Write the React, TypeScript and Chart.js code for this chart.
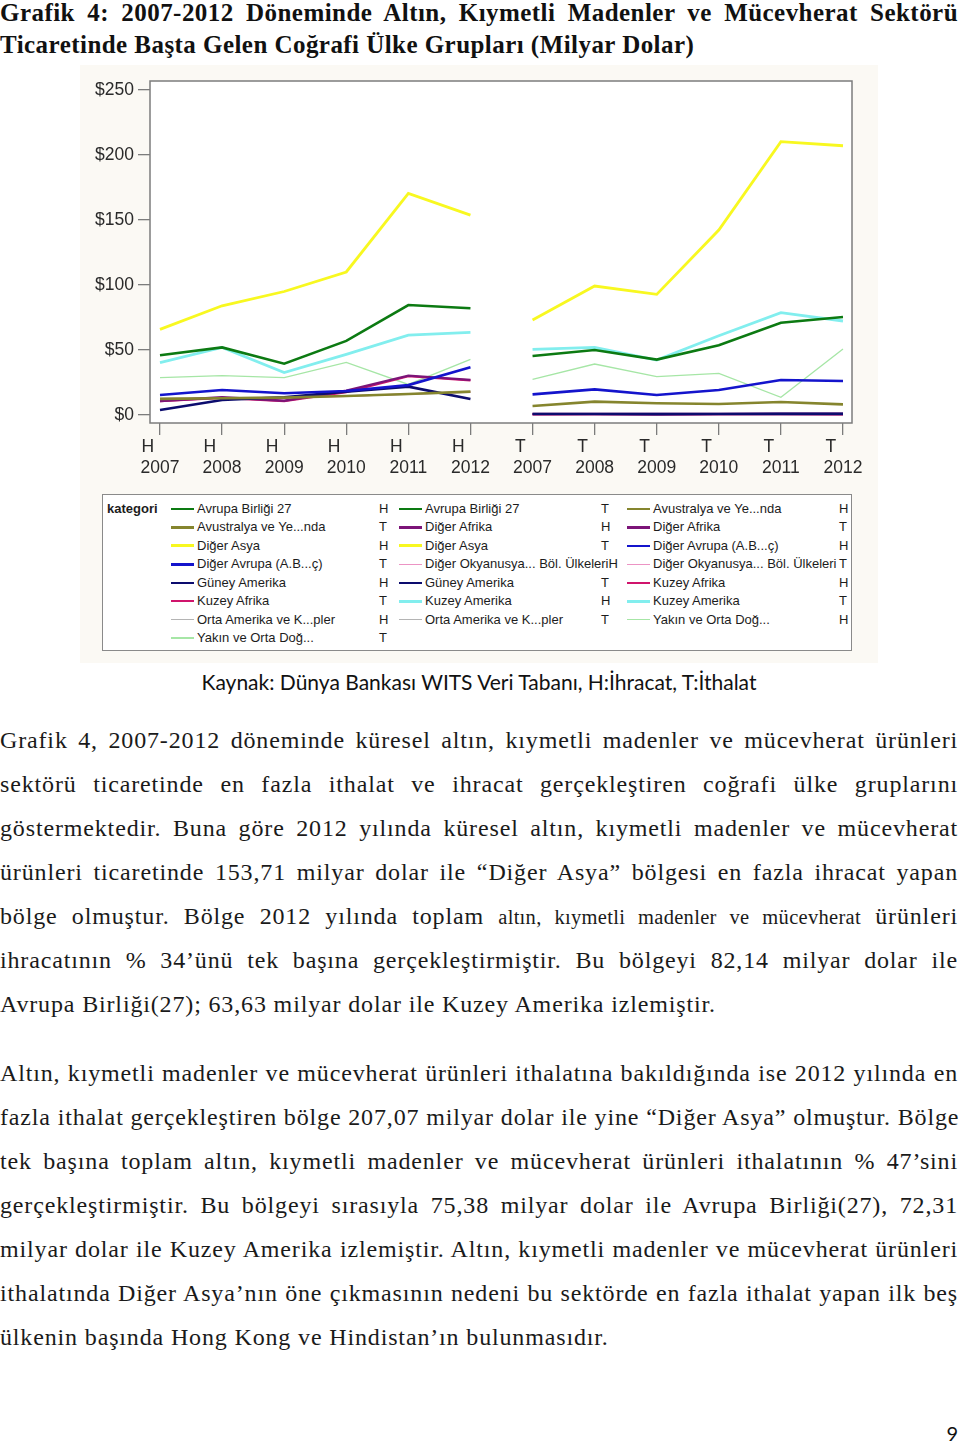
import React, { useEffect, useRef } from 'react';
import { Chart, registerables } from 'chart.js';

Chart.register(...registerables);

// ---------- data ----------
const YEARS = ['2007', '2008', '2009', '2010', '2011', '2012'];
const TYPES = ['H', 'T'];
const Y_TICKS = [0, 50, 100, 150, 200, 250];

const REGIONS = [
  'Avrupa Birliği 27',
  'Avustralya ve Ye...nda',
  'Diğer Afrika',
  'Diğer Asya',
  'Diğer Avrupa (A.B...ç)',
  'Diğer Okyanusya... Böl. Ülkeleri',
  'Güney Amerika',
  'Kuzey Afrika',
  'Kuzey Amerika',
  'Orta Amerika ve K...pler',
  'Yakın ve Orta Doğ...',
];

// H = ihracat (export), T = ithalat (import), milyar dolar
const AB27_H = [46, 52, 39.5, 57, 84.6, 82.1];
const AB27_T = [45.4, 50, 42.6, 53.6, 71, 75.4];
const AVUSTRALYA_H = [12.4, 12.9, 13.4, 14.6, 16.2, 18];
const AVUSTRALYA_T = [6.9, 10.3, 9, 8.5, 10, 8.2];
const DIGER_AFRIKA_H = [10.8, 13.6, 11, 18.7, 30.3, 27];
const DIGER_AFRIKA_T = [0.9, 0.9, 0.8, 0.9, 1, 1];
const DIGER_ASYA_H = [65.9, 84, 95, 110, 170.5, 153.7];
const DIGER_ASYA_T = [73, 99.2, 92.8, 142.3, 210.3, 207.1];
const DIGER_AVRUPA_H = [15.4, 19.2, 16.7, 18.5, 23, 36.7];
const DIGER_AVRUPA_T = [15.9, 19.7, 15.4, 19.2, 26.9, 26.2];
const DIGER_OKYANUSYA_H = [12.5, 13, 13.4, 14.5, 16.1, 17.8];
const DIGER_OKYANUSYA_T = [0.3, 0.3, 0.2, 0.3, 0.4, 0.3];
const GUNEY_AMERIKA_H = [3.8, 11.5, 13.6, 18, 21.8, 12.3];
const GUNEY_AMERIKA_T = [0.8, 0.8, 0.7, 0.8, 0.9, 0.9];
const KUZEY_AFRIKA_H = [10.6, 13.2, 10.7, 17.6, 29.8, 26.6];
const KUZEY_AFRIKA_T = [0.5, 0.6, 0.5, 0.6, 0.6, 0.5];
const KUZEY_AMERIKA_H = [40.3, 52, 32.6, 46.7, 61.5, 63.6];
const KUZEY_AMERIKA_T = [50.5, 52, 42.3, 61, 78.7, 72.3];
const ORTA_AMERIKA_H = [12.7, 13.2, 13.6, 14.6, 16, 17.6];
const ORTA_AMERIKA_T = [0.6, 0.7, 0.6, 0.7, 0.7, 0.6];
const YAKIN_DOGU_H = [28.7, 30.3, 28.7, 40.5, 23.5, 42.8];
const YAKIN_DOGU_T = [27.4, 39.2, 29.5, 32, 13.6, 50.8];

const VALUES_H = [AB27_H, AVUSTRALYA_H, DIGER_AFRIKA_H, DIGER_ASYA_H, DIGER_AVRUPA_H, DIGER_OKYANUSYA_H, GUNEY_AMERIKA_H, KUZEY_AFRIKA_H, KUZEY_AMERIKA_H, ORTA_AMERIKA_H, YAKIN_DOGU_H];
const VALUES_T = [AB27_T, AVUSTRALYA_T, DIGER_AFRIKA_T, DIGER_ASYA_T, DIGER_AVRUPA_T, DIGER_OKYANUSYA_T, GUNEY_AMERIKA_T, KUZEY_AFRIKA_T, KUZEY_AMERIKA_T, ORTA_AMERIKA_T, YAKIN_DOGU_T];

// ---------- styles ----------
const COLORS = ['#0c7a12', '#85852e', '#7c1478', '#f8f820', '#1414cc', '#ec94c4', '#0c0c6e', '#d0146c', '#82eeee', '#b4b4b4', '#a6e6a6'];
const WIDTHS = [2.6, 2.6, 2.4, 2.8, 2.6, 1.6, 2.6, 2.2, 2.8, 1.6, 1.3];
const DRAW_ORDER = [2, 3, 5, 1, 3, 9, 3, 7, 2, 9, 8];

const TITLE_LINES = [
  'Grafik 4: 2007-2012 Döneminde Altın, Kıymetli Madenler ve Mücevherat Sektörü',
  'Ticaretinde Başta Gelen Coğrafi Ülke Grupları (Milyar Dolar)',
];
const SOURCE = 'Kaynak: Dünya Bankası WITS Veri Tabanı, H:İhracat, T:İthalat';
const PARA1 = [
  'Grafik 4, 2007-2012 döneminde küresel altın, kıymetli madenler ve mücevherat ürünleri',
  'sektörü ticaretinde en fazla ithalat ve ihracat gerçekleştiren coğrafi ülke gruplarını',
  'göstermektedir. Buna göre 2012 yılında küresel altın, kıymetli madenler ve mücevherat',
  'ürünleri ticaretinde 153,71 milyar dolar ile “Diğer Asya” bölgesi en fazla ihracat yapan',
  ['bölge olmuştur. Bölge 2012 yılında toplam ', 'altın, kıymetli madenler ve mücevherat', ' ürünleri'],
  'ihracatının % 34’ünü tek başına gerçekleştirmiştir. Bu bölgeyi 82,14 milyar dolar ile',
  'Avrupa Birliği(27); 63,63 milyar dolar ile Kuzey Amerika izlemiştir.',
];
const PARA2 = [
  'Altın, kıymetli madenler ve mücevherat ürünleri ithalatına bakıldığında ise 2012 yılında en',
  'fazla ithalat gerçekleştiren bölge 207,07 milyar dolar ile yine “Diğer Asya” olmuştur. Bölge',
  'tek başına toplam altın, kıymetli madenler ve mücevherat ürünleri ithalatının % 47’sini',
  'gerçekleştirmiştir. Bu bölgeyi sırasıyla 75,38 milyar dolar ile Avrupa Birliği(27), 72,31',
  'milyar dolar ile Kuzey Amerika izlemiştir. Altın, kıymetli madenler ve mücevherat ürünleri',
  'ithalatında Diğer Asya’nın öne çıkmasının nedeni bu sektörde en fazla ithalat yapan ilk beş',
  'ülkenin başında Hong Kong ve Hindistan’ın bulunmasıdır.',
];
const PAGE_NO = '9';

const X_LABELS = TYPES.flatMap((t) => YEARS.map((y) => [t, y]));

const AXIS_FONT = { family: '"Liberation Sans", Arial, sans-serif', size: 17.5 };

const framePlugin = {
  id: 'frame',
  beforeDraw(chart: any) {
    const { ctx, chartArea: a } = chart;
    ctx.save();
    ctx.fillStyle = '#ffffff';
    ctx.fillRect(a.left, a.top, a.right - a.left, a.bottom - a.top);
    ctx.restore();
  },
  afterDraw(chart: any) {
    const { ctx, chartArea: a } = chart;
    ctx.save();
    ctx.strokeStyle = '#7c7c7c';
    ctx.lineWidth = 1.5;
    ctx.strokeRect(a.left, a.top, a.right - a.left, a.bottom - a.top);
    ctx.restore();
  },
};

function ChartCanvas() {
  const ref = useRef<HTMLCanvasElement | null>(null);
  useEffect(() => {
    if (!ref.current) return;
    const datasets: any[] = [];
    REGIONS.forEach((name, r) => {
      TYPES.forEach((t, ti) => {
        const vals = ti === 0 ? VALUES_H[r] : VALUES_T[r];
        datasets.push({
          label: name + ' ' + t,
          data: vals.map((v, i) => ({ x: ti * YEARS.length + i, y: v })),
          borderColor: COLORS[r],
          backgroundColor: COLORS[r],
          borderWidth: WIDTHS[r],
          pointRadius: 0,
          tension: 0,
          fill: false,
          order: DRAW_ORDER[r],
        });
      });
    });
    const gridOpts = { drawOnChartArea: false, drawTicks: true, tickLength: 12, color: '#7c7c7c', lineWidth: 1.3 };
    const chart = new Chart(ref.current, {
      type: 'line',
      data: { datasets },
      options: {
        responsive: false,
        animation: false,
        layout: { padding: { left: 0, top: 16, right: 26, bottom: 0 } },
        plugins: { legend: { display: false }, tooltip: { enabled: false } },
        scales: {
          x: {
            type: 'linear',
            min: -0.161,
            max: 11.145,
            afterBuildTicks: (s: any) => {
              s.ticks = X_LABELS.map((_, i) => ({ value: i }));
            },
            afterFit: (s: any) => {
              s.height = 72;
            },
            ticks: {
              autoSkip: false,
              maxRotation: 0,
              padding: 2,
              color: '#2a2a2a',
              font: AXIS_FONT,
              callback: (v: any) => {
                const l = X_LABELS[Math.round(v)];
                return l ? [l[0] + '     ', l[1]] : '';
              },
            },
            grid: gridOpts,
            border: { display: false },
          },
          y: {
            min: -6.15,
            max: 256.9,
            afterBuildTicks: (s: any) => {
              s.ticks = Y_TICKS.map((v) => ({ value: v }));
            },
            afterFit: (s: any) => {
              s.width = 70;
            },
            ticks: {
              padding: 4,
              color: '#2a2a2a',
              font: AXIS_FONT,
              callback: (v: any) => '$' + v,
            },
            grid: gridOpts,
            border: { display: false },
          },
        },
      },
      plugins: [framePlugin],
    } as any);
    return () => chart.destroy();
  }, []);
  return (
    <canvas
      ref={ref}
      width={798}
      height={430}
      style={{ position: 'absolute', left: 0, top: 0, width: 798, height: 430 }}
    />
  );
}

function Legend() {
  const entries: { name: string; t: string; r: number }[] = [];
  REGIONS.forEach((name, r) => TYPES.forEach((t) => entries.push({ name, t, r })));
  const colX = [68, 296, 524];
  const letterOff = [182, 176, 186];
  const rowY0 = 5;
  const rowH = 18.45;
  return (
    <div
      style={{
        position: 'absolute',
        left: 22,
        top: 429,
        width: 750,
        height: 157,
        boxSizing: 'border-box',
        border: '1.5px solid #8a8a8a',
        background: '#ffffff',
        fontFamily: '"Liberation Sans", Arial, sans-serif',
        fontSize: 13,
        color: '#1c1c1c',
      }}
    >
      <div style={{ position: 'absolute', left: 4, top: rowY0, height: 18, lineHeight: '18px', fontWeight: 'bold' }}>
        kategori
      </div>
      {entries.map((e, k) => {
        const row = Math.floor(k / 3);
        const col = k % 3;
        return (
          <div
            key={k}
            style={{
              position: 'absolute',
              left: colX[col],
              top: rowY0 + row * rowH,
              height: 18,
              lineHeight: '18px',
              display: 'flex',
              alignItems: 'center',
              whiteSpace: 'nowrap',
            }}
          >
            <span
              style={{
                display: 'inline-block',
                width: 23,
                height: Math.max(1.2, WIDTHS[e.r]),
                background: COLORS[e.r],
                marginRight: 3,
              }}
            />
            <span style={{ display: 'inline-block', minWidth: letterOff[col] }}>{e.name}</span>
            <span>{e.t}</span>
          </div>
        );
      })}
    </div>
  );
}

function TextLine({ line, last }: { line: any; last: boolean }) {
  const align = last ? 'left' : 'justify';
  return (
    <div
      style={{
        height: 44,
        lineHeight: '44px',
        textAlign: align as any,
        textAlignLast: align as any,
        whiteSpace: 'nowrap',
      }}
    >
      {Array.isArray(line)
        ? line.map((p, i) => (
            <span key={i} style={i === 1 ? { fontSize: 20.5, letterSpacing: 0.3 } : undefined}>
              {p}
            </span>
          ))
        : line}
    </div>
  );
}

export default function App() {
  return (
    <div
      style={{
        position: 'absolute',
        left: 0,
        top: 0,
        width: 960,
        height: 1444,
        background: '#ffffff',
        overflow: 'hidden',
        fontFamily: '"Liberation Serif", "DejaVu Serif", serif',
        color: '#1a1a1a',
      }}
    >
      <div
        style={{
          position: 'absolute',
          left: 0,
          top: -3,
          width: 958,
          fontWeight: 'bold',
          fontSize: 25,
          letterSpacing: 0.45,
          color: '#111',
        }}
      >
        {TITLE_LINES.map((l, i) => (
          <div
            key={i}
            style={{
              height: 32,
              lineHeight: '32px',
              textAlign: i === 0 ? 'justify' : 'left',
              textAlignLast: i === 0 ? 'justify' : 'left',
              whiteSpace: 'nowrap',
            }}
          >
            {l}
          </div>
        ))}
      </div>

      <div style={{ position: 'absolute', left: 80, top: 65, width: 798, height: 598, background: '#fbf9f4' }}>
        <ChartCanvas />
        <Legend />
      </div>

      <div
        style={{
          position: 'absolute',
          left: 0,
          top: 669,
          width: 958,
          textAlign: 'center',
          fontFamily: 'Lato, "Open Sans", sans-serif',
          fontSize: 21,
          lineHeight: '26px',
          color: '#111',
        }}
      >
        {SOURCE}
      </div>

      <div style={{ position: 'absolute', left: 0, top: 718, width: 958, fontSize: 24, letterSpacing: 0.85 }}>
        {PARA1.map((l, i) => (
          <TextLine key={i} line={l} last={i === PARA1.length - 1} />
        ))}
      </div>

      <div style={{ position: 'absolute', left: 0, top: 1051, width: 958, fontSize: 24, letterSpacing: 0.85 }}>
        {PARA2.map((l, i) => (
          <TextLine key={i} line={l} last={i === PARA2.length - 1} />
        ))}
      </div>

      <div
        style={{
          position: 'absolute',
          right: 2,
          top: 1421,
          fontFamily: 'Lato, "Open Sans", sans-serif',
          fontSize: 20,
          lineHeight: '24px',
          color: '#111',
        }}
      >
        {PAGE_NO}
      </div>
    </div>
  );
}
